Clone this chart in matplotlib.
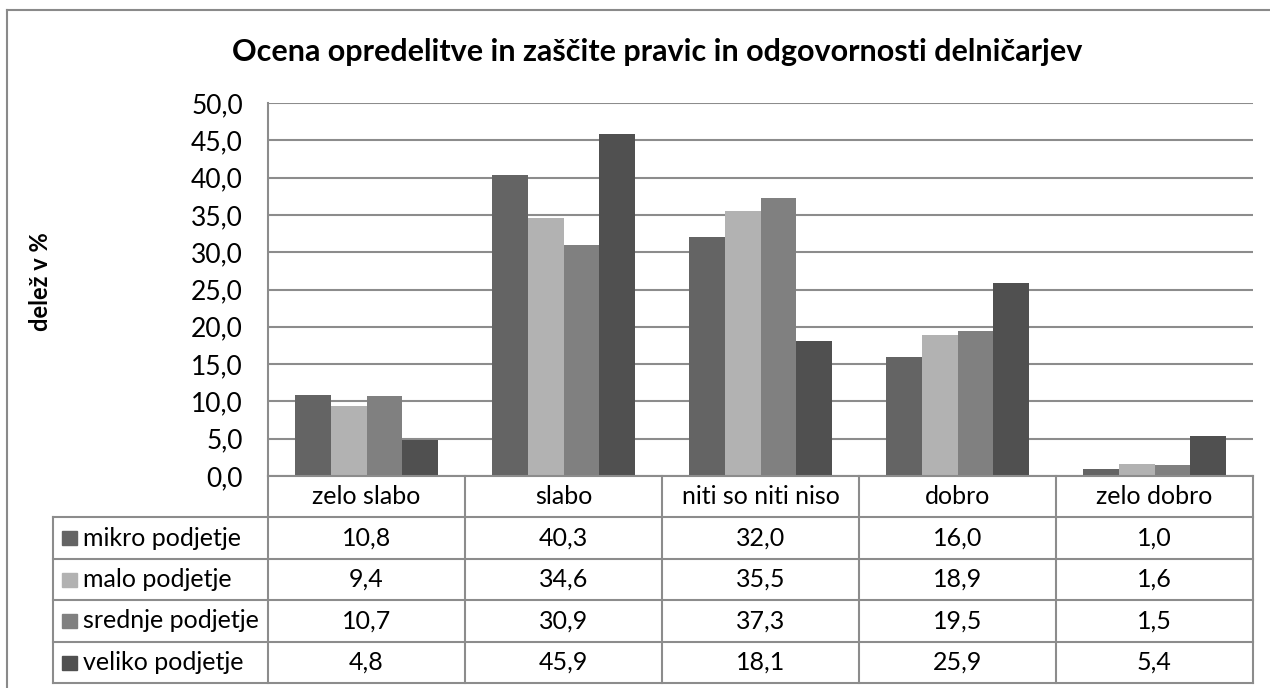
import matplotlib.pyplot as plt
from matplotlib.lines import Line2D
from matplotlib.patches import Rectangle

plt.rcParams['font.family'] = ['Lato', 'DejaVu Sans']

categories = ['zelo slabo', 'slabo', 'niti so niti niso', 'dobro', 'zelo dobro']
series_names = ['mikro podjetje', 'malo podjetje', 'srednje podjetje', 'veliko podjetje']
mikro = [10.8, 40.3, 32.0, 16.0, 1.0]
malo = [9.4, 34.6, 35.5, 18.9, 1.6]
srednje = [10.7, 30.9, 37.3, 19.5, 1.5]
veliko = [4.8, 45.9, 18.1, 25.9, 5.4]
series = [mikro, malo, srednje, veliko]
colors = ['#646464', '#b2b2b2', '#808080', '#505050']
yticks = [0, 5, 10, 15, 20, 25, 30, 35, 40, 45, 50]

W, H = 1270, 688
fig = plt.figure(figsize=(W / 100, H / 100), dpi=100)


def fx(px):
    return px / W


def fy(py):
    return 1 - py / H


def hline(x0, x1, y, color='#8c8c8c', lw=1.5):
    fig.add_artist(Line2D([fx(x0), fx(x1)], [fy(y), fy(y)], color=color, lw=lw))


def vline(x, y0, y1, color='#8c8c8c', lw=1.5):
    fig.add_artist(Line2D([fx(x), fx(x)], [fy(y0), fy(y1)], color=color, lw=lw))


# chart frame
vline(7, 10, H, color='#8a8a8a', lw=1.5)
hline(7, W, 10, color='#8a8a8a', lw=1.5)

left, right, top, bottom = 268, 1253, 103, 476
ax = fig.add_axes([fx(left), fy(bottom), fx(right - left), (bottom - top) / H])

n_groups = len(categories)
bw = 1 / 5.5
for j, (vals, c) in enumerate(zip(series, colors)):
    xs = [i + (j - 1.5) * bw for i in range(n_groups)]
    ax.bar(xs, vals, width=bw, color=c, zorder=3)

ax.set_xlim(-0.5, n_groups - 0.5)
ax.set_ylim(0, 50)
ax.set_yticks(yticks)
ax.set_yticklabels([f'{v:.1f}'.replace('.', ',') for v in yticks], fontsize=19)
ax.set_xticks([])
ax.tick_params(axis='y', length=0, pad=18)
ax.grid(axis='y', color='#8c8c8c', lw=1.5, zorder=0)
for s in ['top', 'right', 'bottom']:
    ax.spines[s].set_visible(False)
ax.spines['left'].set_color('#8c8c8c')
ax.spines['left'].set_linewidth(1.5)

fig.text(fx(657), fy(52), 'Ocena opredelitve in zaščite pravic in odgovornosti delničarjev',
         ha='center', va='center', fontsize=22, fontweight='bold')
fig.text(fx(40), fy(282), 'delež v %', rotation=90, ha='center', va='center',
         fontsize=17, fontweight='bold')

# data table under the axis
col_w = (right - left) / n_groups
row_edges = [476, 517, 559, 600, 642, 683]
tab_left = 53
for k, y in enumerate(row_edges):
    hline(left if k == 0 else tab_left, right, y)
for i in range(n_groups + 1):
    vline(left + i * col_w, row_edges[0], row_edges[-1])
vline(tab_left, row_edges[1], row_edges[-1])

for i, cat in enumerate(categories):
    fig.text(fx(left + (i + 0.5) * col_w), fy((row_edges[0] + row_edges[1]) / 2), cat,
             ha='center', va='center', fontsize=18)
for r, (name, vals, c) in enumerate(zip(series_names, series, colors)):
    yc = (row_edges[r + 1] + row_edges[r + 2]) / 2
    fig.add_artist(Rectangle((fx(62), fy(yc + 7)), fx(15), 14 / H, color=c))
    fig.text(fx(83), fy(yc), name, ha='left', va='center', fontsize=18)
    for i, v in enumerate(vals):
        fig.text(fx(left + (i + 0.5) * col_w), fy(yc), f'{v:.1f}'.replace('.', ','),
                 ha='center', va='center', fontsize=18)

fig.savefig('out.png', dpi=100)
